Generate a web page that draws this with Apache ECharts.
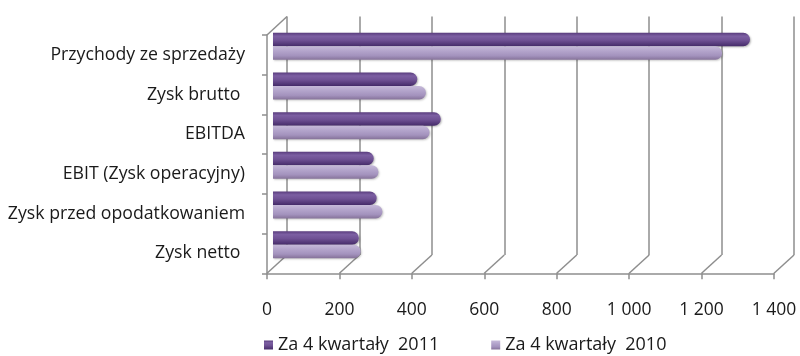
<!DOCTYPE html>
<html>
<head>
<meta charset="utf-8">
<script src="https://cdn.jsdelivr.net/npm/echarts@6/dist/echarts.min.js"></script>
<style>
  html, body { margin: 0; padding: 0; background: #fff; }
  #chart { width: 800px; height: 356px; }
</style>
</head>
<body>
<div id="chart"></div>
<script>
// Financial results, last four quarters, 2011 vs 2010
const categories = [
  'Przychody ze sprzedaży',
  'Zysk brutto ',
  'EBITDA',
  'EBIT (Zysk operacyjny)',
  'Zysk przed opodatkowaniem',
  'Zysk netto '
];
const series2011 = [1316, 398, 463, 278, 286, 237];
const series2010 = [1239, 422, 432, 291, 302, 242];
const seriesNames = ['Za 4 kwartały  2011', 'Za 4 kwartały  2010'];
const valueTicks = [0, 200, 400, 600, 800, 1000, 1200, 1400];
const tickLabels = ['0', '200', '400', '600', '800', '1 000', '1 200', '1 400'];

const FONT = 'Open Sans';
const LINE = '#8e8e8e';
const TEXT = '#1a1a1a';

// cylinder-like shading across the bar thickness
function shade(stops) {
  return new echarts.graphic.LinearGradient(0, 0, 0, 1,
    stops.map(function (s) { return { offset: s[0], color: s[1] }; }));
}
const darkFill = shade([[0, '#5a3d7e'], [0.25, '#7c5fa2'], [0.55, '#6f5194'], [1, '#452b69']]);
const lightFill = shade([[0, '#c6bad9'], [0.35, '#b3a4cb'], [0.7, '#a392bd'], [1, '#857299']]);

const chart = echarts.init(document.getElementById('chart'), null, { renderer: 'canvas' });

const option = {
  animation: false,
  backgroundColor: '#ffffff',
  textStyle: { fontFamily: FONT },
  legend: {
    left: 264,
    top: 336,
    padding: 0,
    itemWidth: 9,
    itemHeight: 9,
    itemGap: 52,
    icon: 'rect',
    textStyle: { fontFamily: FONT, fontSize: 18, color: TEXT },
    data: seriesNames
  },
  grid: [
    // bars (mid-depth of the 3D box)
    { left: 273, width: 507.5, top: 26.5, height: 238 },
    // front face: axis lines, ticks and labels
    { left: 267, width: 507, top: 35, height: 238.3 },
    // back wall: gridlines
    { left: 287, width: 507, top: 16.5, height: 238.5 }
  ],
  xAxis: [
    { gridIndex: 0, type: 'value', min: 0, max: 1400, interval: 200, show: false },
    {
      gridIndex: 1, type: 'value', min: 0, max: 1400, interval: 200,
      axisLine: { show: true, lineStyle: { color: LINE, width: 1.5 } },
      axisTick: { show: true, length: 6, lineStyle: { color: LINE, width: 1.5 } },
      splitLine: { show: false },
      axisLabel: {
        margin: 28, fontFamily: FONT, fontSize: 17.5, color: TEXT,
        formatter: function (v) { return tickLabels[valueTicks.indexOf(v)]; }
      }
    },
    {
      gridIndex: 2, type: 'value', min: 0, max: 1400, interval: 200,
      axisLine: { show: false }, axisTick: { show: false }, axisLabel: { show: false },
      splitLine: { show: true, lineStyle: { color: LINE, width: 1.5 } }
    }
  ],
  yAxis: [
    { gridIndex: 0, type: 'category', data: categories, inverse: true, show: false },
    {
      gridIndex: 1, type: 'category', data: categories, inverse: true,
      axisLine: { show: true, lineStyle: { color: LINE, width: 1.5 } },
      axisTick: { show: true, length: 5, lineStyle: { color: LINE, width: 1.5 } },
      axisLabel: {
        margin: 22, fontFamily: FONT, fontSize: 17.7, color: TEXT,
        padding: [8, 0, 0, 0]
      }
    },
    {
      gridIndex: 2, type: 'category', data: categories, inverse: true, show: false
    }
  ],
  series: [
    {
      name: seriesNames[0], type: 'bar', xAxisIndex: 0, yAxisIndex: 0,
      data: series2011, barWidth: 13.5, barGap: '0%',
      itemStyle: {
        color: darkFill, borderRadius: [0, 7, 7, 0],
        shadowColor: 'rgba(0,0,0,0.28)', shadowBlur: 2, shadowOffsetX: 1, shadowOffsetY: 1
      }
    },
    {
      name: seriesNames[1], type: 'bar', xAxisIndex: 0, yAxisIndex: 0,
      data: series2010, barWidth: 13.5, barGap: '0%',
      itemStyle: {
        color: lightFill, borderRadius: [0, 7, 7, 0],
        shadowColor: 'rgba(0,0,0,0.22)', shadowBlur: 2, shadowOffsetX: 1, shadowOffsetY: 1
      }
    }
  ]
};

chart.setOption(option);

// Floor edges joining each front tick to its back-wall gridline,
// plus the top edge of the left wall.
const frontBottom = chart.convertToPixel({ yAxisIndex: 1 }, categories[categories.length - 1]) + 238.3 / 12;
const backBottom = chart.convertToPixel({ yAxisIndex: 2 }, categories[categories.length - 1]) + 238.5 / 12;
const frontTopY = chart.convertToPixel({ yAxisIndex: 1 }, categories[0]) - 238.3 / 12;
const backTopY = chart.convertToPixel({ yAxisIndex: 2 }, categories[0]) - 238.5 / 12;
const edges = [];
valueTicks.forEach(function (v) {
  edges.push({
    type: 'line', silent: true, z: 1,
    shape: {
      x1: chart.convertToPixel({ xAxisIndex: 1 }, v), y1: frontBottom,
      x2: chart.convertToPixel({ xAxisIndex: 2 }, v), y2: backBottom
    },
    style: { stroke: LINE, lineWidth: 1.5 }
  });
});
edges.push({
  type: 'line', silent: true, z: 1,
  shape: {
    x1: chart.convertToPixel({ xAxisIndex: 1 }, 0), y1: frontTopY,
    x2: chart.convertToPixel({ xAxisIndex: 2 }, 0), y2: backTopY
  },
  style: { stroke: LINE, lineWidth: 1.5 }
});
chart.setOption({ graphic: edges });
</script>
</body>
</html>
